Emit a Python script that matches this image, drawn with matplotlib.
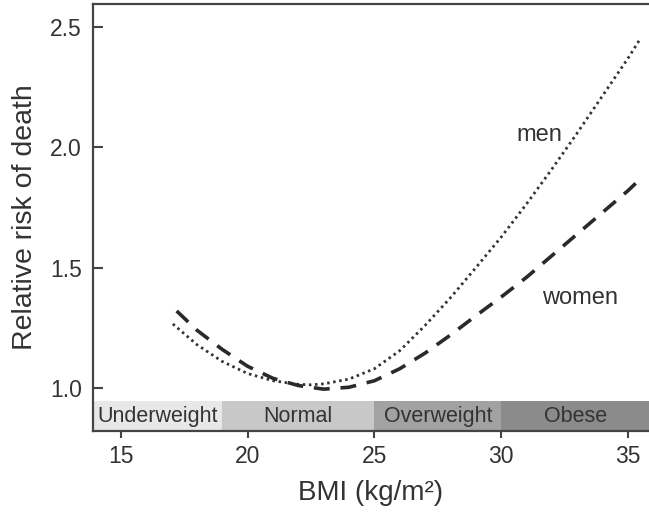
import matplotlib
matplotlib.use("Agg")
import matplotlib.pyplot as plt

plt.rcParams['font.family'] = ['Liberation Sans', 'DejaVu Sans']

# BMI values and relative risk
bmi_men = [17.05, 18, 19, 20, 21, 22, 22.5, 23, 24, 25, 26, 27, 28, 29, 30, 31, 32, 33, 34, 35, 35.5]
risk_men = [1.266, 1.18, 1.11, 1.06, 1.03, 1.015, 1.013, 1.017, 1.037, 1.08, 1.155, 1.26, 1.375, 1.50, 1.627,
            1.765, 1.91, 2.06, 2.215, 2.37, 2.454]

bmi_women = [17.2, 18, 19, 20, 21, 22, 23, 24, 25, 26, 27, 28, 29, 30, 31, 32, 33, 34, 35, 35.5]
risk_women = [1.32, 1.24, 1.16, 1.09, 1.04, 1.01, 0.995, 1.003, 1.03, 1.08, 1.145, 1.22, 1.30, 1.378,
              1.46, 1.55, 1.64, 1.73, 1.82, 1.87]

# BMI categories band
categories = ['Underweight', 'Normal', 'Overweight', 'Obese']
cat_start = [13.9, 19, 25, 30]
cat_end = [19, 25, 30, 35.83]
cat_colors = ['#e8e8e8', '#c8c8c8', '#a2a2a2', '#8b8b8b']

xticks = [15, 20, 25, 30, 35]
yticks = [1.0, 1.5, 2.0, 2.5]

fig = plt.figure(figsize=(6.49, 5.13), dpi=100)
ax = fig.add_axes([0.1433, 0.1598, 0.8567, 0.8324])

ymin, ymax = 0.821, 2.596
band_top = 0.946

# category band along the bottom
for name, lo, hi, c in zip(categories, cat_start, cat_end, cat_colors):
    ax.bar(lo, band_top - ymin, width=hi - lo, bottom=ymin, align='edge', color=c, linewidth=0, zorder=1)
    ax.text((lo + hi) / 2, (ymin + band_top) / 2 - 0.004, name, ha='center', va='center',
            fontsize=15.5, color='#333333', zorder=2)

ax.plot(bmi_men, risk_men, color='#333333', linestyle=(0, (0.9, 1.3)), linewidth=2.0,
        solid_capstyle='round', zorder=3)
ax.plot(bmi_women, risk_women, color='#2a2a2a', linestyle=(0, (4.4, 3.0)), linewidth=2.6, zorder=3)

ax.text(31.5, 2.05, 'men', ha='center', va='center', fontsize=17, color='#333333')
ax.text(33.1, 1.374, 'women', ha='center', va='center', fontsize=17, color='#333333')

ax.set_xlim(13.9, 35.83)
ax.set_ylim(ymin, ymax)
ax.set_xticks(xticks)
ax.set_yticks(yticks)
ax.set_yticklabels([f'{v:.1f}' for v in yticks])

ax.tick_params(axis='y', direction='in', length=7, width=1.5, color='#444444',
               labelsize=16.5, labelcolor='#333333', pad=8)
ax.tick_params(axis='x', direction='out', length=5, width=1.5, color='#444444',
               labelsize=16.5, labelcolor='#333333', pad=5)

for side in ['left', 'bottom', 'top']:
    ax.spines[side].set_color('#444444')
    ax.spines[side].set_linewidth(1.6)
ax.spines['right'].set_visible(False)

ax.set_xlabel('BMI (kg/m²)', fontsize=20, color='#333333', labelpad=9)
ax.set_ylabel('Relative risk of death', fontsize=20.5, color='#333333', labelpad=9)

fig.savefig('out.png', dpi=100)
